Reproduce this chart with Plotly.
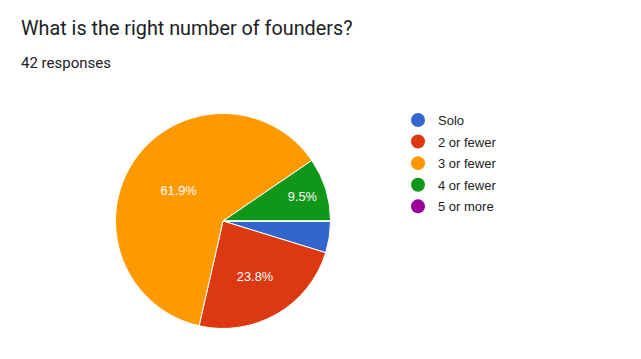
import plotly.graph_objects as go

categories = ["Solo", "2 or fewer", "3 or fewer", "4 or fewer", "5 or more"]
counts = [2, 10, 26, 4, 0]
colors = ["#3366cc", "#dc3912", "#ff9900", "#109618", "#990099"]
title_text = "What is the right number of founders?"
subtitle_text = "42 responses"

total = sum(counts)
labels_text = [f"{c / total * 100:.1f}%" if c / total >= 0.05 else "" for c in counts]

W, H = 641, 359
OFF = 8  # default page body margin
cx, cy, r = 223 - OFF, 221 - OFF, 107.5

fig = go.Figure()
fig.add_trace(go.Pie(
    labels=categories,
    values=counts,
    text=labels_text,
    textinfo="text",
    textposition="inside",
    insidetextorientation="horizontal",
    sort=False,
    direction="clockwise",
    rotation=90,
    marker=dict(colors=colors, line=dict(color="white", width=1)),
    textfont=dict(color="white", size=12.8, family="Liberation Sans, Arial"),
    showlegend=False,
    hoverinfo="label+percent",
    domain=dict(x=[(cx - r) / W, (cx + r) / W], y=[(H - cy - r) / H, (H - cy + r) / H]),
))

for i, (cat, col) in enumerate(zip(categories, colors)):
    fig.add_trace(go.Scatter(
        x=[None], y=[None], mode="markers", name=cat,
        legendgroup=f"g{i}",
        marker=dict(color=col, size=14, symbol="circle"),
        showlegend=True,
    ))

fig.update_layout(
    width=W, height=H,
    margin=dict(l=0, r=0, t=0, b=0),
    paper_bgcolor="white", plot_bgcolor="white",
    xaxis=dict(visible=False), yaxis=dict(visible=False),
    legend=dict(
        x=(400 - OFF - 2) / W, y=1 - (108 - OFF - 3) / H, xanchor="left", yanchor="top",
        font=dict(size=13, color="#222222", family="Liberation Sans, Arial"),
        tracegroupgap=1.7, itemclick=False, itemdoubleclick=False,
        bgcolor="rgba(0,0,0,0)",
    ),
    annotations=[
        dict(text=title_text, x=(19 - OFF) / W, y=1 - (15 - OFF) / H, xref="paper", yref="paper",
             xanchor="left", yanchor="top", showarrow=False,
             font=dict(size=19.8, color="#202124", family="Roboto")),
        dict(text=subtitle_text, x=(19 - OFF) / W, y=1 - (52 - OFF) / H, xref="paper", yref="paper",
             xanchor="left", yanchor="top", showarrow=False,
             font=dict(size=15, color="#202124", family="Roboto")),
    ],
)

fig.write_html("out.html")
